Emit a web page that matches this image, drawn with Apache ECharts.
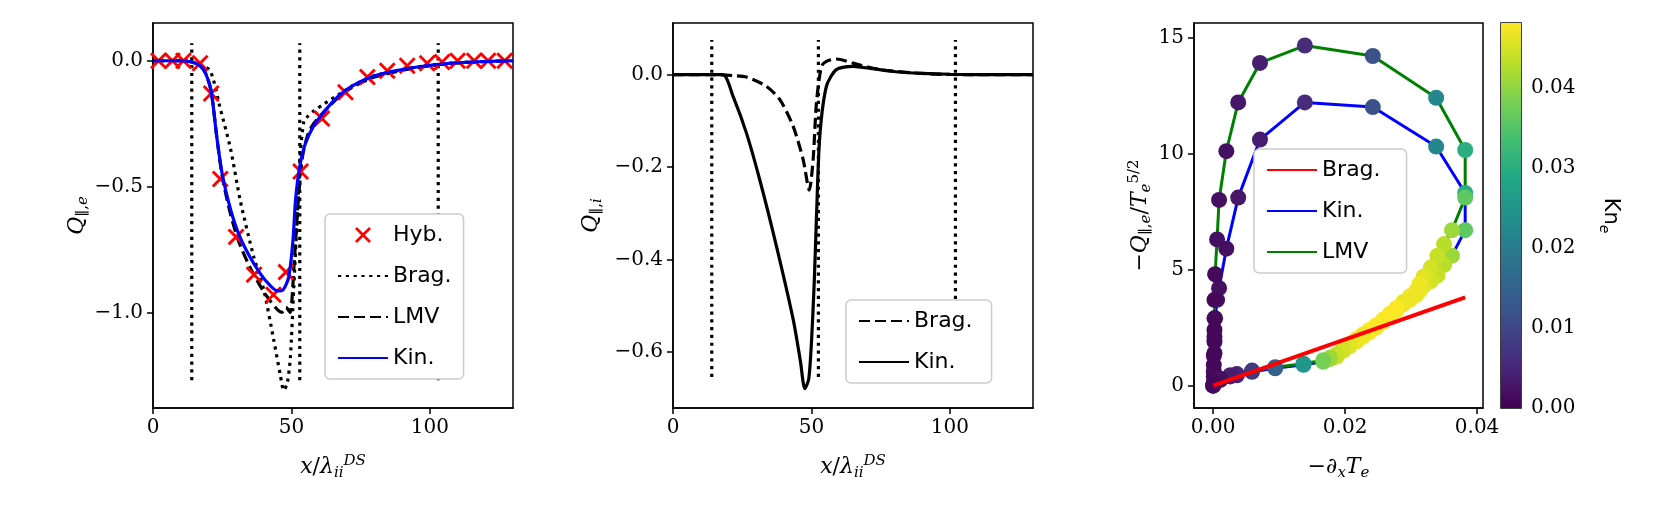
<!DOCTYPE html>
<html><head><meta charset="utf-8">
<script src="https://cdn.jsdelivr.net/npm/echarts@6/dist/echarts.min.js"></script>
<style>html,body{margin:0;padding:0;background:#fff}#c{width:1653px;height:526px}</style>
</head><body><div id="c"></div>
<script>
// ---------- Panel 1: electron heat flux ----------
const p1BragX = [0,10,14,17,20.7,24.3,28,31.6,36.4,40,43.6,46,47.2,48.5,49.6,50.8,52,53.2,54.5,56,58,62,67,72,80,90,100,110,120,130];
const p1BragY = [0,0,-0.005,-0.015,-0.04,-0.19,-0.35,-0.56,-0.78,-0.91,-1.11,-1.25,-1.31,-1.28,-1.18,-0.91,-0.64,-0.37,-0.24,-0.22,-0.2,-0.17,-0.135,-0.1,-0.06,-0.035,-0.018,-0.008,-0.003,0];
const p1LmvX = [0,10,14,17,19,21,23,25,28,31,35,39,42,45,46.5,48,49.5,51,52.5,54,56,58,62,67,72,80,90,100,110,120,130];
const p1LmvY = [0,0,-0.005,-0.02,-0.05,-0.12,-0.3,-0.46,-0.61,-0.72,-0.82,-0.9,-0.95,-0.99,-1.0,-0.98,-1.0,-0.8,-0.55,-0.38,-0.29,-0.25,-0.2,-0.145,-0.105,-0.065,-0.038,-0.02,-0.009,-0.003,0];
const p1KinX = [0,10,14,17,19,21,23,25,28,31,35,39,42,45,47,49,50.5,51.5,53,55,58,62,67,72,80,90,100,110,120,130];
const p1KinY = [0,0,-0.005,-0.02,-0.05,-0.12,-0.3,-0.45,-0.59,-0.69,-0.78,-0.85,-0.89,-0.915,-0.91,-0.86,-0.72,-0.55,-0.42,-0.33,-0.26,-0.2,-0.14,-0.1,-0.06,-0.035,-0.018,-0.008,-0.003,0];
const p1HybX = [2,7,11,17,21,24.3,30,36.5,43.5,48,53.3,61,69.5,77.4,84.6,91.8,99,104.4,110,116,121,127];
const p1HybY = [0,0,0,-0.01,-0.13,-0.47,-0.7,-0.85,-0.93,-0.84,-0.44,-0.23,-0.125,-0.065,-0.04,-0.02,-0.01,-0.005,0,0,0,0];
const p1VLines = [14, 53, 103];
const p1VRange = [-1.27, 0.07];
// ---------- Panel 2: ion heat flux ----------
const p2KinX = [0,10,18,21.7,26.5,31.3,37.3,43.4,46,47.6,49,50,51,51.8,53,55.4,59,65,72,79.5,90,100,115,130];
const p2KinY = [0,0,0,-0.047,-0.126,-0.227,-0.37,-0.53,-0.62,-0.68,-0.66,-0.58,-0.45,-0.31,-0.134,-0.025,0.011,0.018,0.013,0.007,0.003,0.001,0,0];
const p2BragX = [0,15,22,26.5,33.7,38.6,43.4,47,49.2,50.6,51.8,53.6,55.4,59,65,74.7,91.6,110,130];
const p2BragY = [0,0,-0.002,-0.005,-0.025,-0.054,-0.112,-0.184,-0.25,-0.184,-0.061,0.018,0.029,0.034,0.025,0.011,0.002,0,0];
const p2VLines = [14, 52.5, 102];
const p2VRange = [-0.655, 0.075];
// ---------- Panel 3: flux vs gradient ----------
const gradX = [0,0.0001,0.0001,0.0002,0.0002,0.0002,0.0003,0.0006,0.0009,0.0020,0.0038,0.0071,0.0139,0.0242,0.0338,0.0382,0.0382,0.0362,0.0350,0.0340,0.0330,0.0319,0.0313,0.0308,0.0298,0.0288,0.0278,0.0268,0.0258,0.0247,0.0237,0.0227,0.0217,0.0207,0.0197,0.0187,0.0177,0.0167,0.0137,0.0094,0.0059,0.0036,0.0026,0.0011,0.0001];
const qKin = [0,0.4,0.9,1.4,1.9,2.4,2.9,3.7,4.2,5.9,8.1,10.6,12.2,12.0,10.3,8.3,6.7,5.6,5.2,4.75,4.5,4.3,4.1,3.9,3.7,3.5,3.25,3.0,2.75,2.5,2.3,2.1,1.9,1.7,1.5,1.25,1.15,1.03,0.9,0.75,0.6,0.45,0.4,0.25,0.1];
const qLMV = [0,0.6,1.3,2.1,2.9,3.7,4.8,6.3,8.0,10.1,12.2,13.9,14.65,14.2,12.4,10.15,8.1,6.7,6.1,5.6,5.1,4.7,4.4,4.1,3.85,3.6,3.35,3.1,2.85,2.6,2.4,2.2,2.0,1.8,1.6,1.35,1.2,1.1,0.95,0.8,0.65,0.5,0.45,0.3,0.12];
const knE = [0.001,0.001,0.001,0.001,0.001,0.001,0.001,0.002,0.002,0.002,0.003,0.004,0.006,0.012,0.022,0.03,0.036,0.041,0.043,0.044,0.045,0.046,0.047,0.047,0.047,0.047,0.048,0.048,0.048,0.048,0.048,0.047,0.047,0.046,0.045,0.044,0.041,0.038,0.025,0.015,0.008,0.005,0.004,0.002,0.001];
const bragX3 = [0, 0.0382];
const bragY3 = [0, 3.8];
const knMax = 0.0481;
// ---------- tick labels ----------
const p1XTicks = [0,50,100], p1YTicks = [-1,-0.5,0];
const p2XTicks = [0,50,100], p2YTicks = [-0.6,-0.4,-0.2,0];
const p3XTicks = [0,0.02,0.04], p3YTicks = [0,5,10,15];
const cbTicks = [0,0.01,0.02,0.03,0.04];

const viridis = ['#440154','#482475','#414487','#355f8d','#2a788e','#21918c','#22a884','#44bf70','#7ad151','#bddf26','#fde725'];
const zip = (a,b) => a.map((v,i)=>[v,b[i]]);
const fmt = d => v => (v<0?'\u2212':'') + Math.abs(v).toFixed(d);
const SERIF = 'DejaVu Serif';
const SANS = 'DejaVu Sans';
const lbl = d => ({fontFamily:SERIF,fontSize:20,color:'#000',formatter:fmt(d)});
const rich = {
  i:{fontFamily:SERIF,fontStyle:'italic',fontSize:22,color:'#000'},
  n:{fontFamily:SERIF,fontSize:22,color:'#000'},
  sub:{fontFamily:SERIF,fontStyle:'italic',fontSize:15,color:'#000',padding:[12,0,0,0]},
  subn:{fontFamily:SERIF,fontSize:15,color:'#000',padding:[12,0,0,0]},
  sup:{fontFamily:SERIF,fontStyle:'italic',fontSize:15,color:'#000',padding:[0,0,12,0]},
  supn:{fontFamily:SERIF,fontSize:15,color:'#000',padding:[0,0,12,0]},
  s:{fontFamily:SANS,fontSize:21,color:'#000'},
  ss:{fontFamily:SANS,fontStyle:'italic',fontSize:14,color:'#000',padding:[12,0,0,0]}
};
function xAx(grid,min,max,ticks,d,name){
  return {type:'value',gridIndex:grid,min,max,splitLine:{show:false},
    axisLine:{onZero:false,lineStyle:{color:'#000',width:1.5}},
    axisTick:{customValues:ticks,length:6,lineStyle:{color:'#000',width:1.5}},
    axisLabel:Object.assign(lbl(d),{customValues:ticks,margin:10}),
    name,nameLocation:'middle',nameGap:46,nameTextStyle:{rich}};
}
function yAx(grid,min,max,ticks,d,name,gap){
  return {type:'value',gridIndex:grid,min,max,splitLine:{show:false},
    axisLine:{onZero:false,lineStyle:{color:'#000',width:1.5}},
    axisTick:{customValues:ticks,length:6,lineStyle:{color:'#000',width:1.5}},
    axisLabel:Object.assign(lbl(d),{customValues:ticks,margin:10}),
    name,nameLocation:'middle',nameGap:gap,nameTextStyle:{rich}};
}
const xName = '{i|x}{n|/}{i|λ}{sub|ii}{sup|DS}';
const dotted = {color:'#000',width:3.2,type:[3.2,4.6]};
const dashed = {color:'#000',width:3.2,type:[11,5]};
const series = [];
function line(name,x,y,ls,xi,z){series.push({type:'line',name,xAxisIndex:xi,yAxisIndex:xi,data:zip(x,y),symbol:'none',smooth:0.25,lineStyle:ls,itemStyle:{color:ls.color},z:z||2,animation:false});}
p1VLines.forEach(v=>series.push({type:'line',xAxisIndex:0,yAxisIndex:0,data:[[v,p1VRange[0]],[v,p1VRange[1]]],symbol:'none',lineStyle:dotted,animation:false}));
p2VLines.forEach(v=>series.push({type:'line',xAxisIndex:1,yAxisIndex:1,data:[[v,p2VRange[0]],[v,p2VRange[1]]],symbol:'none',lineStyle:dotted,animation:false}));
series.push({type:'scatter',name:'Hyb.',xAxisIndex:0,yAxisIndex:0,data:zip(p1HybX,p1HybY),symbol:'path://M0,1.2L1.2,0L5,3.8L8.8,0L10,1.2L6.2,5L10,8.8L8.8,10L5,6.2L1.2,10L0,8.8L3.8,5Z',symbolSize:17,itemStyle:{color:'#ff0000',opacity:1},z:3,animation:false});
line('Brag.',p1BragX,p1BragY,dotted,0);
line('LMV',p1LmvX,p1LmvY,dashed,0);
line('Kin.',p1KinX,p1KinY,{color:'#0000ff',width:3.2},0,4);
line('Brag. ',p2BragX,p2BragY,dashed,1);
line('Kin. ',p2KinX,p2KinY,{color:'#000',width:3.2},1);
series.push({type:'line',name:'Kin.  ',xAxisIndex:2,yAxisIndex:2,data:zip(gradX,qKin),symbol:'none',lineStyle:{color:'#0000ff',width:3},itemStyle:{color:'#0000ff'},z:2,animation:false});
series.push({type:'line',name:'LMV ',xAxisIndex:2,yAxisIndex:2,data:zip(gradX,qLMV),symbol:'none',lineStyle:{color:'#008000',width:3},itemStyle:{color:'#008000'},z:2,animation:false});
const scStart = series.length;
series.push({type:'scatter',xAxisIndex:2,yAxisIndex:2,data:gradX.map((v,i)=>[v,qKin[i],knE[i]]),symbolSize:16,itemStyle:{opacity:1},z:3,animation:false});
series.push({type:'scatter',xAxisIndex:2,yAxisIndex:2,data:gradX.map((v,i)=>[v,qLMV[i],knE[i]]),symbolSize:16,itemStyle:{opacity:1},z:3,animation:false});
series.push({type:'line',name:'Brag.  ',xAxisIndex:2,yAxisIndex:2,data:zip(bragX3,bragY3),symbol:'none',lineStyle:{color:'#ff0000',width:4},itemStyle:{color:'#ff0000'},z:5,animation:false});
series.push({type:'bar',xAxisIndex:3,yAxisIndex:3,data:[knMax],barWidth:'100%',silent:true,animation:false,
  itemStyle:{color:new echarts.graphic.LinearGradient(0,1,0,0,viridis.map((c,i)=>({offset:i/(viridis.length-1),color:c})))}});

const noSym = n => ({name:n,itemStyle:{opacity:0}});
const legBase = {orient:'vertical',backgroundColor:'#fff',borderColor:'#cccccc',borderWidth:1.5,borderRadius:5,padding:[10,12],itemWidth:50,itemHeight:16,itemGap:19,textStyle:{fontFamily:SANS,fontSize:22,color:'#000'},selectedMode:false};
const gridB = {show:true,borderColor:'#000',borderWidth:1.5,backgroundColor:'transparent',top:23,bottom:118};
const option = {
  backgroundColor:'#fff',
  grid:[Object.assign({left:153,width:360},gridB),Object.assign({left:673,width:360},gridB),Object.assign({left:1194,width:289},gridB),Object.assign({left:1501,width:20},gridB)],
  xAxis:[xAx(0,0,130,p1XTicks,0,xName),xAx(1,0,130,p2XTicks,0,xName),
    xAx(2,-0.0029,0.0409,p3XTicks,2,'{n|−∂}{sub|x}{i|T}{sub|e}'),
    {type:'category',gridIndex:3,data:['Kn'],show:false}],
  yAxis:[yAx(0,-1.38,0.15,p1YTicks,1,'{i|Q}{subn|∥,}{sub|e}',58),
    yAx(1,-0.722,0.112,p2YTicks,1,'{i|Q}{subn|∥,}{sub|i}',68),
    yAx(2,-0.96,15.62,p3YTicks,0,'{n|−}{i|Q}{subn|∥,}{sub|e}{n|/}{i|T}{sub|e}{supn|5/2}',40),
    {type:'value',gridIndex:3,min:0,max:knMax,position:'right',splitLine:{show:false},
      axisLine:{show:false},axisTick:{customValues:cbTicks,length:6,lineStyle:{color:'#000',width:1.5}},
      axisLabel:Object.assign(lbl(2),{customValues:cbTicks,margin:10}),
      name:'{s|Kn}{ss|e}',nameLocation:'middle',nameGap:76,nameRotate:-90,nameTextStyle:{rich}}],
  legend:[Object.assign({left:325,top:214,data:['Hyb.',noSym('Brag.'),noSym('LMV'),noSym('Kin.')]},legBase),
    Object.assign({left:846,top:300,data:[noSym('Brag. '),noSym('Kin. ')]},legBase),
    Object.assign({left:1254,top:149,data:[noSym('Brag.  '),noSym('Kin.  '),noSym('LMV ')]},legBase)],
  visualMap:{type:'continuous',show:false,min:0,max:knMax,dimension:2,seriesIndex:[scStart,scStart+1],inRange:{color:viridis}},
  series
};
const ch = echarts.init(document.getElementById('c'),null,{renderer:'canvas'});
ch.setOption(option);
</script></body></html>
